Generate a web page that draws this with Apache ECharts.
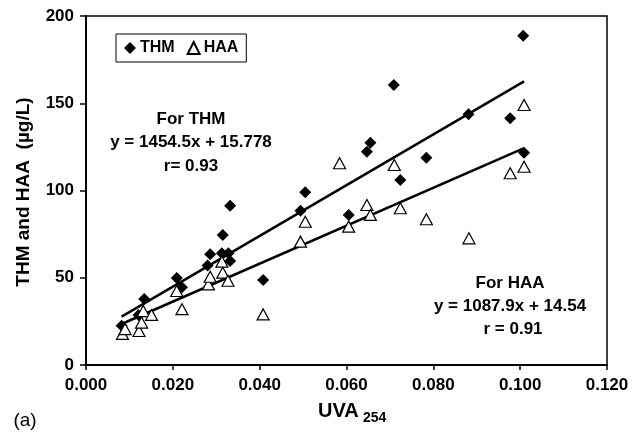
<!DOCTYPE html>
<html>
<head>
<meta charset="utf-8">
<script src="https://cdn.jsdelivr.net/npm/echarts@6/dist/echarts.min.js"></script>
<style>
html,body{margin:0;padding:0;background:#fff;}
#chart{width:642px;height:433px;}
</style>
</head>
<body>
<div id="chart"></div>
<script>
// ---- Data ----
var xTicks = ['0.000','0.020','0.040','0.060','0.080','0.100','0.120'];
var yTicks = ['0','50','100','150','200'];

var thmUVA = [0.0082,0.0121,0.0134,0.0209,0.0221,0.0280,0.0286,0.0315,0.0332,0.0313,0.0328,0.0332,0.0408,0.0494,0.0505,0.0605,0.0647,0.0655,0.0709,0.0724,0.0784,0.0881,0.0977,0.1007,0.1009];
var thmVal = [22.5,28.7,37.8,49.8,44.5,57.0,63.5,74.5,91.3,64.0,64.0,59.6,48.7,88.4,99.0,86.0,122.2,127.4,160.5,106.0,118.8,143.7,141.4,188.7,121.7];

var haaUVA = [0.0084,0.0090,0.0122,0.0128,0.0132,0.0151,0.0209,0.0221,0.0282,0.0286,0.0313,0.0315,0.0327,0.0408,0.0494,0.0505,0.0584,0.0605,0.0647,0.0655,0.0710,0.0724,0.0784,0.0882,0.0977,0.1009,0.1009];
var haaVal = [17.8,20.6,19.5,24.3,30.9,28.7,42.4,32.0,46.2,50.6,59.2,52.9,48.3,29.0,70.7,82.1,115.6,79.3,91.7,86.0,114.6,89.8,83.5,72.6,109.9,113.6,149.0];

// Fitted lines (end points)
var thmFitUVA = [0.0082,0.1009];
var thmFitVal = [27.7,162.5];
var haaFitUVA = [0.0082,0.1009];
var haaFitVal = [23.5,124.3];

var thmText = ['For THM','y = 1454.5x + 15.778','r= 0.93'];
var haaText = ['For HAA','y = 1087.9x + 14.54','r = 0.91'];

function pairs(xs, ys){ return xs.map(function(x,i){ return [x, ys[i]]; }); }

var FONT = '"Liberation Sans", Arial, sans-serif';
var chart = echarts.init(document.getElementById('chart'), null, {renderer:'canvas'});

function txt(s, x, y, size, weight, extra){
  var o = {type:'text', x:x, y:y, style:{text:s, fill:'#000', font: (weight||'bold')+' '+size+'px '+FONT, textAlign:'center', textVerticalAlign:'middle'}};
  if (extra) for (var k in extra) o[k]=extra[k];
  return o;
}

var option = {
  animation:false,
  backgroundColor:'#fff',
  textStyle:{fontFamily:FONT},
  grid:{left:86, right:35, top:16, bottom:68, show:true, borderColor:'#000', borderWidth:1.5, containLabel:false},
  legend:{
    data:['THM','HAA'],
    left:116, top:34,
    orient:'horizontal',
    backgroundColor:'#fff',
    borderColor:'#000', borderWidth:1,
    padding:[6,8,6,8],
    itemWidth:12, itemHeight:12, itemGap:12,
    textStyle:{fontFamily:FONT, fontWeight:'bold', fontSize:16, color:'#000', padding:[0,0,0,-1]}
  },
  xAxis:{
    type:'value', min:0, max:0.12, interval:0.02,
    axisLine:{show:true, onZero:false, lineStyle:{color:'#000', width:2}},
    axisTick:{show:true, inside:false, length:5, lineStyle:{color:'#000', width:1.5}},
    axisLabel:{margin:12, color:'#000', fontFamily:FONT, fontWeight:'bold', fontSize:17,
      formatter:function(v){ var i=Math.round(v/0.02); return xTicks[i]!==undefined?xTicks[i]:v.toFixed(3); }},
    splitLine:{show:false}
  },
  yAxis:{
    type:'value', min:0, max:200, interval:50,
    axisLine:{show:true, onZero:false, lineStyle:{color:'#000', width:2}},
    axisTick:{show:true, inside:false, length:6, lineStyle:{color:'#000', width:1.5}},
    axisLabel:{margin:12, color:'#000', fontFamily:FONT, fontWeight:'bold', fontSize:17,
      formatter:function(v){ var i=Math.round(v/50); return yTicks[i]!==undefined?yTicks[i]:String(v); }},
    splitLine:{show:false}
  },
  series:[
    {name:'THM fit', type:'line', data:pairs(thmFitUVA, thmFitVal), symbol:'none', silent:true,
      lineStyle:{color:'#000', width:2.5}, z:2},
    {name:'HAA fit', type:'line', data:pairs(haaFitUVA, haaFitVal), symbol:'none', silent:true,
      lineStyle:{color:'#000', width:2.5}, z:2},
    {name:'THM', type:'scatter', data:pairs(thmUVA, thmVal), symbol:'diamond', symbolSize:12,
      itemStyle:{color:'#000', opacity:1}, z:3},
    {name:'HAA', type:'scatter', data:pairs(haaUVA, haaVal), symbol:'triangle', symbolSize:[12,11],
      itemStyle:{color:'#fff', borderColor:'#000', borderWidth:1.2, opacity:1}, z:4}
  ],
  graphic:[
    txt(thmText[0], 191, 119, 17),
    txt(thmText[1], 191, 142.5, 17),
    txt(thmText[2], 191, 166, 17),
    txt(haaText[0], 510, 283, 17),
    txt(haaText[1], 510, 306, 17),
    txt(haaText[2], 513, 329, 17),
    // y axis title
    {type:'text', x:24, y:192, rotation:Math.PI/2,
      style:{text:'THM and HAA  (\u00b5g/L)', fill:'#000', font:'bold 19px '+FONT, textAlign:'center', textVerticalAlign:'middle'}},
    // x axis title with subscript
    {type:'text', x:318, y:411, style:{text:'UVA', fill:'#000', font:'bold 20px '+FONT, textAlign:'left', textVerticalAlign:'middle'}},
    {type:'text', x:363, y:418, style:{text:'254', fill:'#000', font:'bold 14px '+FONT, textAlign:'left', textVerticalAlign:'middle'}},
    txt('(a)', 25, 421, 19, 'normal')
  ]
};
chart.setOption(option);
</script>
</body>
</html>
